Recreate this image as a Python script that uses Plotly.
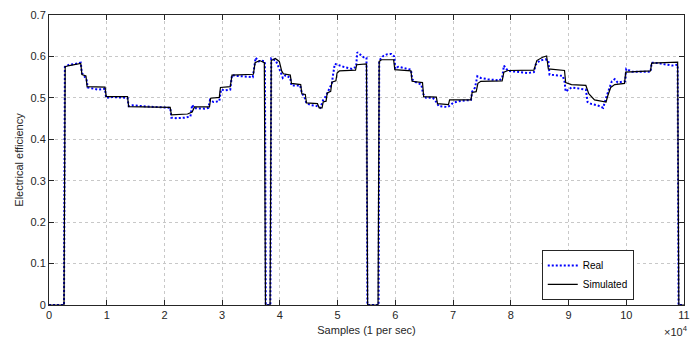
import plotly.graph_objects as go

# x in thousands of samples, y = electrical efficiency
sim_x = [0, 2.6, 2.8, 3.5, 5.5, 5.7, 6.4, 6.6, 9.7, 9.9, 13.6, 13.8, 21.0, 21.2, 24.0, 24.8, 25.2,
         27.8, 28.0, 29.5, 29.7, 31.4, 31.7, 35.4, 35.7, 36.5, 37.3, 37.5, 38.3, 38.5, 39.2, 39.9,
         40.3, 40.6, 41.8, 42.0, 43.6, 43.8, 44.4, 44.6, 46.5, 46.8, 47.3, 47.5, 48.0, 48.2, 48.8,
         49.0, 49.7, 49.9, 50.3, 53.1, 53.3, 55.0, 55.2, 57.0, 57.2, 57.6, 59.7, 59.9, 62.7, 62.9,
         64.7, 64.9, 67.1, 67.3, 69.2, 69.4, 73.1, 73.3, 74.0, 74.3, 74.8, 78.5, 78.8, 79.5, 84.0,
         84.5, 85.5, 86.2, 86.5, 89.3, 89.5, 90.5, 93.0, 93.5, 94.5, 96.5, 96.8, 97.3, 98.0, 99.7,
         99.9, 104.2, 104.4, 108.9, 109.1, 110]
sim_y = [0, 0, 0.575, 0.578, 0.583, 0.556, 0.553, 0.527, 0.526, 0.503, 0.503, 0.479, 0.477, 0.459,
         0.461, 0.466, 0.478, 0.478, 0.499, 0.501, 0.525, 0.527, 0.555, 0.557, 0.585, 0.590, 0.585,
         0, 0, 0.59, 0.595, 0.588, 0.565, 0.558, 0.555, 0.535, 0.532, 0.51, 0.508, 0.488, 0.486,
         0.476, 0.476, 0.49, 0.492, 0.512, 0.516, 0.538, 0.541, 0.56, 0.565, 0.567, 0.580, 0.582,
         0, 0, 0.588, 0.592, 0.592, 0.568, 0.565, 0.54, 0.537, 0.503, 0.502, 0.486, 0.484, 0.495,
         0.495, 0.513, 0.515, 0.535, 0.54, 0.541, 0.562, 0.566, 0.567, 0.59, 0.598, 0.601, 0.57,
         0.566, 0.537, 0.532, 0.53, 0.51, 0.495, 0.49, 0.505, 0.525, 0.532, 0.535, 0.562, 0.565,
         0.584, 0.586, 0, 0]

real_x = [0, 2.6, 2.75, 3.5, 4.5, 5.5, 5.7, 6.0, 6.5, 6.7, 7.5, 8.5, 9.7, 9.9, 11.0, 13.6, 13.8,
          14.5, 17.0, 21.0, 21.2, 22.0, 23.5, 24.5, 24.8, 25.2, 27.0, 27.6, 27.9, 28.5, 29.5, 29.8,
          30.5, 31.4, 31.7, 32.5, 35.3, 35.5, 35.8, 36.3, 36.8, 37.4, 37.55, 38.35, 38.5, 39.3,
          39.8, 40.2, 40.5, 41.0, 41.8, 42.0, 43.5, 43.8, 44.3, 44.6, 45.5, 46.5, 47.0, 47.5, 48.0,
          48.5, 49.0, 49.2, 49.5, 50.0, 51.0, 52.5, 53.2, 53.4, 54.0, 54.5, 55.0, 55.15, 57.1, 57.2,
          57.8, 58.5, 59.3, 59.8, 60.0, 60.5, 61.5, 62.7, 62.9, 63.5, 64.5, 64.8, 65.3, 66.5, 67.1,
          67.5, 69.0, 69.3, 70.0, 71.0, 73.1, 73.3, 73.8, 74.2, 74.8, 76.0, 78.0, 78.5, 78.8, 79.5,
          81.0, 83.0, 84.0, 84.3, 85.0, 86.0, 86.5, 86.7, 87.5, 89.0, 89.3, 89.5, 90.5, 92.0, 93.0,
          93.3, 94.0, 95.0, 96.0, 96.5, 97.0, 97.5, 98.0, 98.5, 99.8, 100.0, 101.0, 103.0, 104.2,
          104.4, 105.5, 107.0, 108.0, 108.9, 109.05, 110]
real_y = [0, 0, 0.575, 0.58, 0.582, 0.585, 0.56, 0.555, 0.545, 0.525, 0.522, 0.52, 0.522, 0.5,
          0.502, 0.5, 0.48, 0.482, 0.479, 0.476, 0.452, 0.451, 0.452, 0.455, 0.483, 0.475, 0.474,
          0.476, 0.495, 0.49, 0.492, 0.52, 0.518, 0.52, 0.555, 0.553, 0.55, 0.57, 0.597, 0.588,
          0.59, 0.588, 0, 0, 0.595, 0.59, 0.575, 0.56, 0.548, 0.555, 0.548, 0.53, 0.53, 0.512, 0.5,
          0.487, 0.482, 0.48, 0.476, 0.495, 0.505, 0.52, 0.535, 0.555, 0.582, 0.58, 0.575, 0.57,
          0.575, 0.61, 0.603, 0.598, 0.597, 0, 0, 0.59, 0.6, 0.605, 0.606, 0.6, 0.57, 0.575, 0.572,
          0.568, 0.545, 0.538, 0.532, 0.51, 0.5, 0.5, 0.49, 0.48, 0.478, 0.48, 0.488, 0.492, 0.495,
          0.515, 0.525, 0.552, 0.548, 0.545, 0.542, 0.548, 0.578, 0.565, 0.563, 0.56, 0.562, 0.58,
          0.59, 0.593, 0.59, 0.556, 0.555, 0.553, 0.54, 0.515, 0.525, 0.522, 0.52, 0.49, 0.485,
          0.482, 0.476, 0.5, 0.52, 0.54, 0.545, 0.537, 0.54, 0.57, 0.563, 0.562, 0.563, 0.585,
          0.584, 0.58, 0.578, 0.58, 0, 0]

x_tickvals = [0, 10, 20, 30, 40, 50, 60, 70, 80, 90, 100, 110]
x_ticktext = ["0", "1", "2", "3", "4", "5", "6", "7", "8", "9", "10", "11"]
y_tickvals = [0, 0.1, 0.2, 0.3, 0.4, 0.5, 0.6, 0.7]
y_ticktext = ["0", "0.1", "0.2", "0.3", "0.4", "0.5", "0.6", "0.7"]

FONT = "Liberation Sans, Arial, sans-serif"
TICKC = "#262626"

fig = go.Figure()
fig.add_trace(go.Scatter(x=real_x, y=real_y, mode="lines", name="Real",
                         line=dict(color="#0000ff", width=2, dash="2px,2px")))
fig.add_trace(go.Scatter(x=sim_x, y=sim_y, mode="lines", name="Simulated",
                         line=dict(color="#000000", width=1.2)))

axis_common = dict(showline=True, linecolor="#262626", linewidth=1, mirror="ticks",
                   ticks="inside", ticklen=5, tickcolor="#262626", showgrid=True,
                   gridcolor="#c8c8c8", griddash="dot", gridwidth=1, zeroline=False,
                   tickfont=dict(family=FONT, size=11, color=TICKC))

fig.update_xaxes(range=[0, 110], tickvals=x_tickvals, ticktext=x_ticktext,
                 title=dict(text="Samples (1 per sec)", font=dict(family=FONT, size=11, color=TICKC),
                            standoff=6), **axis_common)
fig.update_yaxes(range=[0, 0.7], tickvals=y_tickvals, ticktext=y_ticktext,
                 title=dict(text="Electrical efficiency", font=dict(family=FONT, size=11, color=TICKC),
                            standoff=4), **axis_common)

fig.add_annotation(x=1.0, y=0, xref="paper", yref="paper", xanchor="right", yanchor="top",
                   yshift=-17, xshift=6, showarrow=False,
                   text="×10<sup>4</sup>", font=dict(family=FONT, size=11, color=TICKC))

fig.update_layout(
    width=699, height=344,
    margin=dict(l=49, r=15, t=9, b=39),
    paper_bgcolor="white", plot_bgcolor="white",
    font=dict(family=FONT, size=11, color=TICKC),
    legend=dict(x=0.776, y=0.19, xanchor="left", yanchor="top",
                bordercolor="#262626", borderwidth=1, bgcolor="white",
                font=dict(family=FONT, size=10, color="#000000"),
                itemwidth=30, tracegroupgap=0),
    showlegend=True,
)

fig.write_html("out.html")
